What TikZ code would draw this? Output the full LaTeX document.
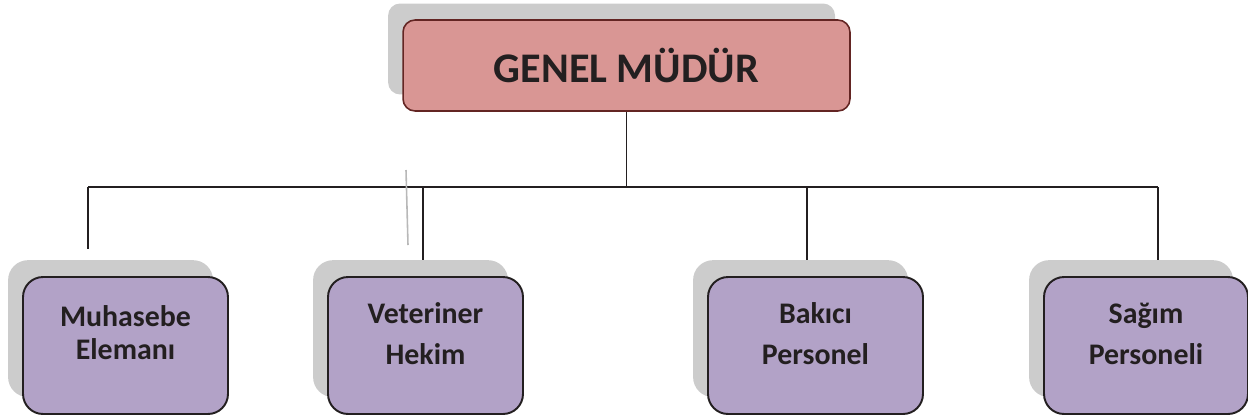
\documentclass[tikz,border=0pt]{standalone}
\usepackage{fontspec}
\setmainfont{Carlito}
\usetikzlibrary{shadows,backgrounds}

\definecolor{ustdolgu}{HTML}{D99694}
\definecolor{ustkenar}{HTML}{632523}
\definecolor{mor}{HTML}{B2A2C7}
\definecolor{golge}{HTML}{CCCCCC}
\definecolor{koyu}{HTML}{231F20}

\begin{document}
\begin{tikzpicture}[x=0.02cm, y=-0.02cm,
    mudur/.style={rectangle, rounded corners=0.24cm, draw=ustkenar, line width=0.9pt, fill=ustdolgu,
        minimum width=8.94cm, minimum height=1.82cm, inner sep=0pt, text=koyu,
        font=\bfseries\fontsize{24}{28}\selectfont,
        general shadow={fill=golge, shadow xshift=-8.5pt, shadow yshift=9.4pt}},
    birim/.style={rectangle, rounded corners=0.4cm, draw=koyu, line width=1.1pt, fill=mor,
        minimum height=2.74cm, inner sep=0pt,
        general shadow={fill=golge, shadow xshift=-8.5pt, shadow yshift=9.6pt}},
    etiket/.style={align=center, text=koyu, font=\bfseries\fontsize{17}{23.3}\selectfont, yshift=6.8pt},
    hat/.style={draw=koyu, line width=1pt}]
                \useasboundingbox (0,0) rectangle (1248,417);
                \node[mudur] (genel) at (626.5,65.5) {GENEL MÜDÜR};
                \node[birim, minimum width=4.1cm,
                    label={[etiket, font=\bfseries\fontsize{17}{18.7}\selectfont, yshift=0.6pt]center:{Muhasebe\\Elemanı}}] (muhasebe) at (125.5,345.5) {};
                \node[birim, minimum width=3.9cm, label={[etiket]center:{Veteriner\\Hekim}}] (veteriner) at (425.5,345.5) {};
                \node[birim, minimum width=4.3cm, label={[etiket]center:{Bakıcı\\Personel}}] (bakici) at (815.5,345.5) {};
                \node[birim, minimum width=4.08cm, label={[etiket]center:{Sağım\\Personeli}}] (sagim) at (1146,345.5) {};
                \coordinate (bus) at (627,187);
                \coordinate (d1) at (88,187);
                \coordinate (d2) at (423,187);
                \coordinate (d3) at (807,187);
                \coordinate (d4) at (1158,187);
                \coordinate (iz1) at (406,170);
                \coordinate (iz2) at (408,245);
                \begin{scope}[on background layer]
                \draw[hat] (genel.south) -- (genel.south |- bus);
                \draw[hat] (d1) -- (d4);
                \draw[hat, shorten >=15.3pt] (d1) -- (d1 |- muhasebe.north);
                \draw[hat] (d2) -- (d2 |- veteriner.north);
                \draw[hat] (d3) -- (d3 |- bakici.north);
                \draw[hat] (d4) -- (d4 |- sagim.north);
                \draw[golge!90!black, line width=0.9pt] (iz1) -- (iz2);
                \end{scope}
                \end{tikzpicture}
\end{document}
